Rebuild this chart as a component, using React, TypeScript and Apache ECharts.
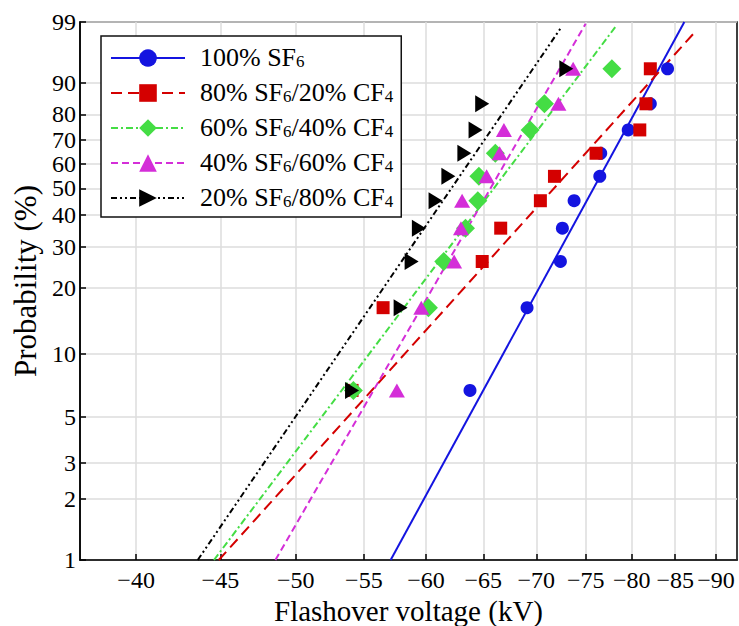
import React, { useEffect, useRef } from "react";
import * as echarts from "echarts";

const FONT = "Liberation Serif";

// Probability levels (%) of the plotted points
const PROB = [6.7, 16.3, 26.0, 35.6, 45.2, 54.8, 64.4, 74.0, 83.7, 93.3];

// Flashover voltages (kV) of the measured points
const V_100 = [-63.8, -69.1, -72.4, -72.6, -73.8, -76.5, -76.6, -79.6, -82.1, -84.1];
const V_80 = [-54.1, -56.5, -64.9, -66.6, -70.4, -71.8, -76.1, -80.9, -81.6, -82.1];
const V_60 = [-54.2, -60.2, -61.5, -63.4, -64.5, -64.6, -66.1, -69.4, -70.8, -77.8];
const V_40 = [-57.6, -59.6, -62.4, -63.0, -63.1, -65.3, -66.5, -66.9, -72.2, -73.7];
const V_20 = [-54.1, -57.9, -58.8, -59.4, -60.8, -61.9, -63.3, -64.3, -64.9, -73.0];

// Fitted Weibull lines: [voltage kV, probability %]
const FIT_100 = [[-57.1, 1], [-86.1, 99]];
const FIT_80 = [[-44.9, 1], [-87.6, 98.5]];
const FIT_60 = [[-44.6, 1], [-78.3, 98.8]];
const FIT_40 = [[-48.6, 1], [-75.0, 98.9]];
const FIT_20 = [[-43.6, 1], [-72.5, 98.7]];

const NAMES = [
  "100% SF6",
  "80% SF6/20% CF4",
  "60% SF6/40% CF4",
  "40% SF6/60% CF4",
  "20% SF6/80% CF4",
];

const X_TICKS = [-40, -45, -50, -55, -60, -65, -70, -75, -80, -85, -90];
const Y_TICKS = [1, 2, 3, 5, 10, 20, 30, 40, 50, 60, 70, 80, 90, 99];
const X_RANGE = [-36.98, -92.68];
const Y_RANGE = [1, 99];

const tx = (v: number) => Math.log(-v);
const ty = (p: number) => Math.log(-Math.log(1 - p / 100));

const richName = (name: string) => {
  // turn "SF6" / "CF4" into subscript tokens
  const parts = name.split(/(\d)(?=\/|$)/);
  let s = "";
  for (let i = 0; i < parts.length; i++) {
    if (!parts[i]) continue;
    if (i % 2 === 1) s += `{s|${parts[i]}}`;
    else s += `{a|${parts[i]}}`;
  }
  return s;
};

export default function App() {
  const ref = useRef<HTMLDivElement>(null);
  useEffect(() => {
    if (!ref.current) return;
    const chart = echarts.init(ref.current, null, { renderer: "svg" });

    const groups = [
      { name: NAMES[0], v: V_100, fit: FIT_100, color: "#1414e0", dash: "solid" as any, symbol: "circle", size: 13 as any, rot: 0 },
      { name: NAMES[1], v: V_80, fit: FIT_80, color: "#d40000", dash: [11, 6], symbol: "rect", size: 13, rot: 0 },
      { name: NAMES[2], v: V_60, fit: FIT_60, color: "#44dd44", dash: [7, 3, 2, 3], symbol: "diamond", size: 19, rot: 0 },
      { name: NAMES[3], v: V_40, fit: FIT_40, color: "#d42ed8", dash: [7, 4], symbol: "triangle", size: [16, 14], rot: 0 },
      { name: NAMES[4], v: V_20, fit: FIT_20, color: "#000000", dash: [6, 3, 2, 3, 2, 3], symbol: "triangle", size: [17, 14], rot: -90 },
    ];

    const lineSeries = groups.map((g) => ({
      type: "line",
      name: g.name,
      data: g.fit.map(([v, p]) => [tx(v), ty(p)]),
      showSymbol: false,
      symbol: g.symbol,
      symbolSize: g.size,
      symbolRotate: g.rot,
      color: g.color,
      itemStyle: { color: g.color },
      lineStyle: { color: g.color, width: 2, type: g.dash },
      silent: true,
      z: 2,
    }));
    const scatterSeries = groups.map((g) => ({
      type: "scatter",
      name: g.name,
      data: g.v.map((v, i) => [tx(v), ty(PROB[i])]),
      symbol: g.symbol,
      symbolSize: g.size,
      symbolRotate: g.rot,
      itemStyle: { color: g.color, opacity: 1 },
      silent: true,
      z: 3,
    }));

    chart.setOption({
      animation: false,
      textStyle: { fontFamily: FONT },
      grid: {
        left: 80,
        top: 22,
        right: 2,
        bottom: 66,
        show: true,
        borderColor: "#000",
        borderWidth: 1.5,
        backgroundColor: "transparent",
        outerBoundsMode: "none",
      },
      legend: {
        data: NAMES,
        orient: "vertical",
        left: 101,
        top: 36,
        padding: [8, 8, 7, 9],
        itemWidth: 74,
        itemHeight: 22,
        itemGap: 9,
        backgroundColor: "#fff",
        borderColor: "#111",
        borderWidth: 1.5,
        borderRadius: 0,
        selectedMode: false,
        formatter: (name: string) => richName(name),
        textStyle: {
          fontFamily: FONT,
          fontSize: 26,
          color: "#000",
          padding: [0, 0, 0, 10],
          rich: {
            a: { fontFamily: FONT, fontSize: 26, color: "#000", lineHeight: 24, verticalAlign: "bottom" },
            s: { fontFamily: FONT, fontSize: 17, color: "#000", lineHeight: 24, verticalAlign: "bottom" },
          },
        },
      },
      xAxis: {
        type: "value",
        min: tx(X_RANGE[0]),
        max: tx(X_RANGE[1]),
        name: "Flashover voltage (kV)",
        nameLocation: "middle",
        nameGap: 25,
        nameTextStyle: { fontFamily: FONT, fontSize: 29, lineHeight: 29, color: "#000" },
        axisLine: { show: true, onZero: false, lineStyle: { color: "#000", width: 1.5 } },
        axisTick: {
          show: true,
          inside: true,
          length: 6,
          customValues: X_TICKS.map(tx),
          lineStyle: { color: "#000", width: 1.5 },
        },
        axisLabel: {
          customValues: X_TICKS.map(tx),
          formatter: (v: number) => "\u2212" + Math.round(Math.exp(v)),
          fontFamily: FONT,
          fontSize: 24,
          color: "#000",
          margin: 8,
        },
        splitLine: { show: true, lineStyle: { color: "#dcdcdc", width: 1.5 } },
      },
      yAxis: {
        type: "value",
        min: ty(Y_RANGE[0]),
        max: ty(Y_RANGE[1]),
        name: "Probability (%)",
        nameLocation: "middle",
        nameGap: 37,
        nameTextStyle: { fontFamily: FONT, fontSize: 31, color: "#000", padding: [0, 0, 0, 20] },
        axisLine: { show: true, onZero: false, lineStyle: { color: "#000", width: 1.5 } },
        axisTick: {
          show: true,
          inside: true,
          length: 6,
          customValues: Y_TICKS.map(ty),
          lineStyle: { color: "#000", width: 1.5 },
        },
        axisLabel: {
          customValues: Y_TICKS.map(ty),
          formatter: (v: number) => String(Math.round((1 - Math.exp(-Math.exp(v))) * 100)),
          fontFamily: FONT,
          fontSize: 24,
          color: "#000",
          margin: 4,
        },
        splitLine: { show: true, lineStyle: { color: "#dcdcdc", width: 1.5 } },
      },
      series: [...lineSeries, ...scatterSeries],
    });
    return () => chart.dispose();
  }, []);
  return (
    <div
      ref={ref}
      style={{ position: "fixed", left: 0, top: 0, width: 739, height: 626, background: "#fff" }}
    />
  );
}
